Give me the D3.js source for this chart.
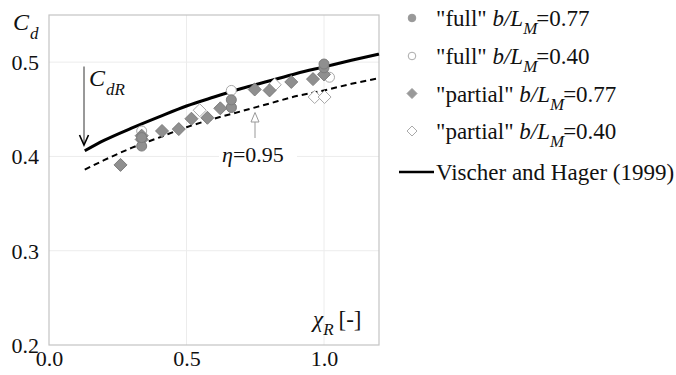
<!DOCTYPE html>
<html><head><meta charset="utf-8">
<script src="https://cdn.jsdelivr.net/npm/d3@7"></script>
<style>body{margin:0;background:#fff}svg text{font-family:"Liberation Serif","Times New Roman",serif !important}</style>
</head><body><svg id="c" width="676" height="375"></svg>
<script>
// ---- data ----
const xTicks = [0.0, 0.5, 1.0];
const xTickLabels = ["0.0", "0.5", "1.0"];
const yTicks = [0.2, 0.3, 0.4, 0.5];
const yTickLabels = ["0.2", "0.3", "0.4", "0.5"];

const fullHiX = [0.337, 0.337, 0.663, 0.663, 1.0, 1.0];
const fullHiY = [0.411, 0.420, 0.452, 0.460, 0.494, 0.498];
const fullLoX = [0.337, 0.663, 0.663, 1.02];
const fullLoY = [0.427, 0.470, 0.452, 0.484];
const partHiX = [0.26, 0.337, 0.337, 0.411, 0.472, 0.518, 0.576, 0.623, 0.748, 0.802, 0.881, 0.960, 1.0];
const partHiY = [0.391, 0.418, 0.422, 0.427, 0.429, 0.440, 0.441, 0.451, 0.471, 0.470, 0.479, 0.482, 0.487];
const partLoX = [0.548, 0.821, 0.966, 1.002];
const partLoY = [0.449, 0.476, 0.463, 0.463];

const curveX = [0.13, 0.2, 0.3, 0.4, 0.5, 0.6, 0.7, 0.8, 0.9, 1.0, 1.1, 1.2];
const vhY    = [0.406, 0.417, 0.430, 0.442, 0.4535, 0.463, 0.472, 0.480, 0.488, 0.495, 0.502, 0.5085];
const etaY   = [0.386, 0.396, 0.409, 0.420, 0.431, 0.440, 0.448, 0.456, 0.464, 0.470, 0.477, 0.483];

const legendLabels = ['"full" ', '"full" ', '"partial" ', '"partial" '];
const legendValues = ['=0.77', '=0.40', '=0.77', '=0.40'];

// ---- chart ----
const FONT = "Liberation Serif";
const svg = d3.select("#c");
const x = d3.scaleLinear().domain([0, 1.2]).range([49, 379]);
const y = d3.scaleLinear().domain([0.2, 0.55]).range([345, 15]);
const gray = "#8f8f8f", grayStroke = "#7d7d7d", hollowStroke = "#a8a8a8";

// grid
svg.append("g").selectAll("line").data(xTicks.slice(1)).join("line")
  .attr("x1", d => x(d)).attr("x2", d => x(d)).attr("y1", y(0.55)).attr("y2", y(0.2))
  .attr("stroke", "#ececec").attr("stroke-width", 1);
svg.append("g").selectAll("line").data(yTicks.slice(1)).join("line")
  .attr("x1", x(0)).attr("x2", x(1.2)).attr("y1", d => y(d)).attr("y2", d => y(d))
  .attr("stroke", "#ececec").attr("stroke-width", 1);
// frame
svg.append("rect").attr("x", x(0)).attr("y", y(0.55)).attr("width", x(1.2) - x(0)).attr("height", y(0.2) - y(0.55))
  .attr("fill", "none").attr("stroke", "#c4c4c4").attr("stroke-width", 1.2);

// axes with d3 (labels only)
const xAxis = d3.axisBottom(x).tickValues(xTicks).tickFormat((d, i) => xTickLabels[i]).tickSize(0).tickPadding(6);
const gx = svg.append("g").attr("transform", `translate(0,${y(0.2)})`).call(xAxis)
  .attr("font-family", FONT).attr("font-size", 22);
gx.select(".domain").remove();
gx.selectAll("text").attr("fill", "#111").attr("dy", "0.66em");
const yAxis = d3.axisLeft(y).tickValues(yTicks).tickFormat((d, i) => yTickLabels[i]).tickSize(0).tickPadding(10);
const gy = svg.append("g").attr("transform", `translate(${x(0)},0)`).call(yAxis)
  .attr("font-family", FONT).attr("font-size", 22);
gy.select(".domain").remove();
gy.selectAll("text").attr("fill", "#111").attr("dy", "0.34em");

// eta label (white bg)
svg.append("rect").attr("x", 219).attr("y", 142).attr("width", 78).attr("height", 26).attr("fill", "#fff");
const et = svg.append("text").attr("x", 222).attr("y", 162).attr("font-size", 22).attr("fill", "#111");
et.append("tspan").attr("font-style", "italic").text("η");
et.append("tspan").text("=0.95");

// curves
const line = d3.line().x(d => x(d[0])).y(d => y(d[1])).curve(d3.curveMonotoneX);
svg.append("path").datum(curveX.map((v, i) => [v, etaY[i]])).attr("d", line)
  .attr("fill", "none").attr("stroke", "#000").attr("stroke-width", 2).attr("stroke-dasharray", "6,4");
svg.append("path").datum(curveX.map((v, i) => [v, vhY[i]])).attr("d", line)
  .attr("fill", "none").attr("stroke", "#000").attr("stroke-width", 3);

// markers
const diamond = s => `M0,${-s}L${s},0L0,${s}L${-s},0Z`;
function circles(xs, ys, fill, stroke) {
  svg.append("g").selectAll("circle").data(xs.map((v, i) => [v, ys[i]])).join("circle")
    .attr("cx", d => x(d[0])).attr("cy", d => y(d[1])).attr("r", 5)
    .attr("fill", fill).attr("stroke", stroke).attr("stroke-width", 1);
}
function diamonds(xs, ys, fill, stroke) {
  svg.append("g").selectAll("path").data(xs.map((v, i) => [v, ys[i]])).join("path")
    .attr("d", diamond(6.5)).attr("transform", d => `translate(${x(d[0])},${y(d[1])})`)
    .attr("fill", fill).attr("stroke", stroke).attr("stroke-width", 1);
}
circles(fullLoX, fullLoY, "#fff", hollowStroke);
diamonds(partLoX, partLoY, "#fff", hollowStroke);
diamonds(partHiX, partHiY, gray, grayStroke);
circles(fullHiX, fullHiY, gray, grayStroke);

// C_dR arrow
svg.append("line").attr("x1", 84).attr("x2", 84).attr("y1", 66.5).attr("y2", 144).attr("stroke", "#333").attr("stroke-width", 1);
svg.append("path").attr("d", "M79.5,135 L84,145 L88.5,135").attr("fill", "none").attr("stroke", "#000").attr("stroke-width", 1.6);
const cdr = svg.append("text").attr("x", 89).attr("y", 86).attr("font-size", 24).attr("fill", "#111").attr("font-style", "italic");
cdr.append("tspan").text("C");
cdr.append("tspan").attr("font-size", 17).attr("dx", 1).attr("dy", 9).text("dR");

// eta arrow (hollow head)
svg.append("line").attr("x1", 255).attr("x2", 255).attr("y1", 121).attr("y2", 138).attr("stroke", "#999").attr("stroke-width", 1);
svg.append("path").attr("d", "M255,112.5 L259,122 L251,122 Z").attr("fill", "#fff").attr("stroke", "#999").attr("stroke-width", 1);

// axis titles
const cd = svg.append("text").attr("x", 13).attr("y", 30).attr("font-size", 24).attr("fill", "#111").attr("font-style", "italic");
cd.append("tspan").text("C");
cd.append("tspan").attr("font-size", 17).attr("dx", 1).attr("dy", 9).text("d");
const xr = svg.append("text").attr("x", 313).attr("y", 327).attr("font-size", 23).attr("fill", "#111");
xr.append("tspan").attr("font-style", "italic").text("χ");
xr.append("tspan").attr("font-style", "italic").attr("font-size", 17).attr("dy", 8).text("R");
xr.append("tspan").attr("dy", -8).attr("dx", 5).text("[-]");

// legend
const legY = [18, 56, 93.5, 131];
const lg = svg.append("g");
legY.forEach((ly, i) => {
  const hi = i % 2 === 0;
  if (i < 2) {
    lg.append("circle").attr("cx", 412).attr("cy", ly).attr("r", 3.8)
      .attr("fill", hi ? "#999" : "#fff").attr("stroke", hi ? "#999" : "#aaa").attr("stroke-width", 1);
  } else {
    lg.append("path").attr("d", diamond(5)).attr("transform", `translate(412,${ly})`)
      .attr("fill", hi ? "#999" : "#fff").attr("stroke", hi ? "#999" : "#aaa").attr("stroke-width", 1);
  }
  const t = lg.append("text").attr("x", 436).attr("y", ly + 8).attr("font-size", 23).attr("fill", "#111");
  t.append("tspan").text(legendLabels[i]);
  t.append("tspan").attr("font-style", "italic").text("b/L");
  t.append("tspan").attr("font-style", "italic").attr("font-size", 17).attr("dy", 8).text("M");
  t.append("tspan").attr("dy", -8).attr("dx", -1).text(legendValues[i]);
});
lg.append("line").attr("x1", 399).attr("x2", 434).attr("y1", 172).attr("y2", 172).attr("stroke", "#000").attr("stroke-width", 2.5);
lg.append("text").attr("x", 436).attr("y", 180).attr("font-size", 23).attr("fill", "#111").text("Vischer and Hager (1999)");
</script></body></html>
